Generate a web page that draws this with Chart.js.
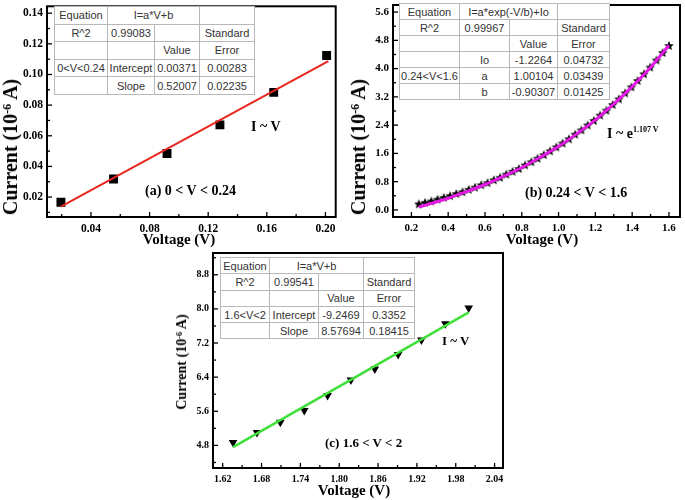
<!DOCTYPE html>
<html>
<head>
<meta charset="utf-8">
<script src="https://cdn.jsdelivr.net/npm/chart.js@4.4.1/dist/chart.umd.min.js"></script>
<style>
  body { margin: 0; background: #fff; }
  #page { position: relative; width: 685px; height: 500px; overflow: hidden; background: #fff; }
  canvas { position: absolute; }
  .fit-table {
    position: absolute; border-collapse: collapse; table-layout: fixed;
    font: 11px "Liberation Sans", Arial, sans-serif; color: #333; background: #fff;
    border: 1.5px solid #8a8a8a;
  }
  .fit-table td { border: 1px solid #b8b8b8; text-align: center; padding: 0; white-space: nowrap; overflow: hidden; }
  .note { position: absolute; font: bold 14px "Liberation Serif", "Times New Roman", serif; white-space: nowrap; line-height: 1; color: #000; }
  .note sup { font-size: 8px; vertical-align: 6px; }
  .axis-title { position: absolute; font-family: "Liberation Serif", "Times New Roman", serif; font-weight: bold; white-space: nowrap; line-height: 1; color: #000; transform: translate(-50%, -50%); }
  .axis-title.vert { transform: translate(-50%, -50%) rotate(-90deg); }
  .axis-title sup { font-size: 0.6em; vertical-align: 0.5em; }
</style>
</head>
<body>
<div id="page">
  <canvas id="chart-a" width="342" height="250" style="left:0;top:0"></canvas>
  <canvas id="chart-b" width="342" height="250" style="left:343px;top:0"></canvas>
  <canvas id="chart-c" width="340" height="255" style="left:170px;top:245px"></canvas>

  <table class="fit-table" style="left:54px;top:6px;width:200px">
    <colgroup><col style="width:53px"><col style="width:47px"><col style="width:45px"><col style="width:55px"></colgroup>
    <tr style="height:17.6px"><td>Equation</td><td colspan="2">I=a*V+b</td><td></td></tr>
    <tr style="height:17.6px"><td>R^2</td><td>0.99083</td><td></td><td>Standard</td></tr>
    <tr style="height:17.6px"><td></td><td></td><td>Value</td><td>Error</td></tr>
    <tr style="height:17.6px"><td>0&lt;V&lt;0.24</td><td>Intercept</td><td>0.00371</td><td>0.00283</td></tr>
    <tr style="height:17.6px"><td></td><td>Slope</td><td>0.52007</td><td>0.02235</td></tr>
  </table>

  <table class="fit-table" style="left:399px;top:3px;width:210px">
    <colgroup><col style="width:60px"><col style="width:50px"><col style="width:48px"><col style="width:52px"></colgroup>
    <tr style="height:16px"><td>Equation</td><td colspan="2">I=a*exp(-V/b)+Io</td><td></td></tr>
    <tr style="height:16px"><td>R^2</td><td>0.99967</td><td></td><td>Standard</td></tr>
    <tr style="height:16px"><td></td><td></td><td>Value</td><td>Error</td></tr>
    <tr style="height:16px"><td></td><td>Io</td><td>-1.2264</td><td>0.04732</td></tr>
    <tr style="height:16px"><td>0.24&lt;V&lt;1.6</td><td>a</td><td>1.00104</td><td>0.03439</td></tr>
    <tr style="height:16px"><td></td><td>b</td><td>-0.90307</td><td>0.01425</td></tr>
  </table>

  <table class="fit-table" style="left:220px;top:257px;width:194px">
    <colgroup><col style="width:49px"><col style="width:49px"><col style="width:45px"><col style="width:51px"></colgroup>
    <tr style="height:16.3px"><td>Equation</td><td colspan="2">I=a*V+b</td><td></td></tr>
    <tr style="height:16.3px"><td>R^2</td><td>0.99541</td><td></td><td>Standard</td></tr>
    <tr style="height:16.3px"><td></td><td></td><td>Value</td><td>Error</td></tr>
    <tr style="height:16.3px"><td>1.6&lt;V&lt;2</td><td>Intercept</td><td>-9.2469</td><td>0.3352</td></tr>
    <tr style="height:16.3px"><td></td><td>Slope</td><td>8.57694</td><td>0.18415</td></tr>
  </table>

  <div class="note" style="left:251px;top:120px">I ~ V</div>
  <div class="note" style="left:145px;top:184px">(a) 0 &lt; V &lt; 0.24</div>
  <div class="note" style="left:607px;top:126px">I ~ e<sup>1.107 V</sup></div>
  <div class="note" style="left:525px;top:186px">(b) 0.24 &lt; V &lt; 1.6</div>
  <div class="note" style="left:442px;top:334px;font-size:13px">I ~ V</div>
  <div class="note" style="left:325px;top:436px;font-size:13px">(c) 1.6 &lt; V &lt; 2</div>

  <div class="axis-title vert" style="left:10px;top:147px;font-size:20px">Current (10<sup>-6</sup> A)</div>
  <div class="axis-title" style="left:179px;top:239px;font-size:15px">Voltage (V)</div>
  <div class="axis-title vert" style="left:358px;top:147px;font-size:20px">Current (10<sup>-6</sup> A)</div>
  <div class="axis-title" style="left:542px;top:239px;font-size:15px">Voltage (V)</div>
  <div class="axis-title vert" style="left:182px;top:362px;font-size:14px">Current (10<sup>-6</sup> A)</div>
  <div class="axis-title" style="left:354px;top:490px;font-size:15px">Voltage (V)</div>
</div>

<script>
// (a) 0 < V < 0.24
const voltsA = [0.0195, 0.0554, 0.0919, 0.128, 0.1647, 0.2008];
const currentA = [0.0166, 0.0318, 0.0484, 0.0671, 0.0883, 0.1124];
const fitVoltsA = [0.0195, 0.202];
const fitCurrentA = [0.0138, 0.1088];
const xTicksA = [0.04, 0.08, 0.12, 0.16, 0.20];
const xLabelsA = ['0.04', '0.08', '0.12', '0.16', '0.20'];
const yTicksA = [0.02, 0.04, 0.06, 0.08, 0.10, 0.12, 0.14];
const yLabelsA = ['0.02', '0.04', '0.06', '0.08', '0.10', '0.12', '0.14'];

// (b) 0.24 < V < 1.6
const voltsB = [0.24, 0.274, 0.308, 0.342, 0.376, 0.41, 0.444, 0.478, 0.512, 0.546,
  0.58, 0.614, 0.648, 0.682, 0.716, 0.75, 0.784, 0.818, 0.852, 0.886,
  0.92, 0.954, 0.988, 1.022, 1.056, 1.09, 1.124, 1.158, 1.192, 1.226,
  1.26, 1.294, 1.328, 1.362, 1.396, 1.43, 1.464, 1.498, 1.532, 1.566, 1.6];
const currentB = [0.16, 0.20, 0.24, 0.29, 0.34, 0.39, 0.45, 0.50, 0.57, 0.63,
  0.70, 0.76, 0.84, 0.91, 1.00, 1.08, 1.16, 1.26, 1.35, 1.45,
  1.55, 1.66, 1.77, 1.88, 2.00, 2.13, 2.25, 2.39, 2.52, 2.67,
  2.81, 2.97, 3.13, 3.30, 3.47, 3.65, 3.84, 4.03, 4.23, 4.44, 4.64];
const fitVoltsB = [0.24, 0.3, 0.4, 0.5, 0.6, 0.7, 0.8, 0.9, 1.0, 1.1, 1.2, 1.3, 1.4, 1.5, 1.6];
const fitCurrentB = [0.08, 0.17, 0.33, 0.52, 0.72, 0.95, 1.20, 1.49, 1.80, 2.16, 2.55, 3.00, 3.49, 4.04, 4.66];
const xTicksB = [0.2, 0.4, 0.6, 0.8, 1.0, 1.2, 1.4, 1.6];
const xLabelsB = ['0.2', '0.4', '0.6', '0.8', '1.0', '1.2', '1.4', '1.6'];
const yTicksB = [0.0, 0.8, 1.6, 2.4, 3.2, 4.0, 4.8, 5.6];
const yLabelsB = ['0.0', '0.8', '1.6', '2.4', '3.2', '4.0', '4.8', '5.6'];

// (c) 1.6 < V < 2
const voltsC = [1.636, 1.673, 1.709, 1.746, 1.782, 1.818, 1.855, 1.891, 1.927, 1.964, 2.0];
const currentC = [4.87, 5.10, 5.34, 5.62, 5.97, 6.33, 6.59, 6.93, 7.27, 7.65, 8.02];
const fitVoltsC = [1.636, 2.0];
const fitCurrentC = [4.76, 7.92];
const xTicksC = [1.62, 1.68, 1.74, 1.80, 1.86, 1.92, 1.98, 2.04];
const xLabelsC = ['1.62', '1.68', '1.74', '1.80', '1.86', '1.92', '1.98', '2.04'];
const yTicksC = [4.8, 5.6, 6.4, 7.2, 8.0, 8.8];
const yLabelsC = ['4.8', '5.6', '6.4', '7.2', '8.0', '8.8'];

const toPoints = (xs, ys) => xs.map((x, i) => ({ x, y: ys[i] }));

function makeStar(r) {
  const c = document.createElement('canvas');
  c.width = c.height = Math.ceil(r * 2) + 2;
  const g = c.getContext('2d');
  const mid = c.width / 2;
  g.beginPath();
  for (let i = 0; i < 10; i++) {
    const rad = i % 2 ? r * 0.45 : r;
    const ang = -Math.PI / 2 + i * Math.PI / 5;
    g.lineTo(mid + rad * Math.cos(ang), mid + rad * Math.sin(ang));
  }
  g.closePath();
  g.fillStyle = '#000';
  g.fill();
  return c;
}

// frame + inward major/minor ticks, placed through the chart's scales
function drawInwardTicks(ctx, scale, area, horizontal) {
  const majors = scale.ticks.map((t) => t.value);
  const step = majors[1] - majors[0];
  const minors = [];
  for (let v = majors[0] - step / 2; v <= scale.max + 1e-9; v += step) {
    if (v >= scale.min) minors.push(v);
  }
  const mark = (v, len) => {
    const p = scale.getPixelForValue(v);
    ctx.beginPath();
    if (horizontal) { ctx.moveTo(p, area.bottom); ctx.lineTo(p, area.bottom - len); }
    else { ctx.moveTo(area.left, p); ctx.lineTo(area.left + len, p); }
    ctx.stroke();
  };
  majors.forEach((v) => mark(v, 5));
  minors.forEach((v) => mark(v, 3));
}

const framePlugin = {
  id: 'frame',
  afterDraw(chart) {
    const { ctx, chartArea: a, scales } = chart;
    ctx.save();
    ctx.strokeStyle = '#000';
    ctx.lineWidth = 1.3;
    drawInwardTicks(ctx, scales.x, a, true);
    drawInwardTicks(ctx, scales.y, a, false);
    ctx.lineWidth = 2;
    ctx.strokeRect(a.left, a.top, a.right - a.left, a.bottom - a.top);
    ctx.restore();
  }
};

function buildPanel(canvasId, p) {
  const tickFont = { family: '"Liberation Serif", "Times New Roman", serif', weight: 'bold', size: p.tickSize };
  return new Chart(document.getElementById(canvasId), {
    type: 'scatter',
    data: {
      datasets: [
        {
          data: toPoints(p.fitX, p.fitY),
          showLine: true,
          borderColor: p.lineColor,
          borderWidth: p.lineWidth,
          pointRadius: 0,
          cubicInterpolationMode: 'monotone',
          order: 0
        },
        {
          data: toPoints(p.x, p.y),
          pointStyle: p.marker,
          pointRotation: p.markerRotation || 0,
          pointRadius: p.markerRadius,
          backgroundColor: '#000',
          borderColor: '#000',
          borderWidth: 0,
          order: 1
        }
      ]
    },
    options: {
      responsive: false,
      animation: false,
      events: [],
      layout: { padding: p.padding },
      plugins: { legend: { display: false }, tooltip: { enabled: false } },
      scales: {
        x: {
          type: 'linear',
          min: p.xMin,
          max: p.xMax,
          afterBuildTicks: (s) => { s.ticks = p.xTicks.map((value) => ({ value })); },
          afterFit: (s) => { s.height = p.xAxisHeight; s.paddingLeft = 0; s.paddingRight = 0; },
          grid: { display: false, drawTicks: false },
          border: { display: false },
          ticks: { padding: 5, color: '#000', font: tickFont, autoSkip: false, maxRotation: 0,
            callback: (v, i) => p.xLabels[i] }
        },
        y: {
          type: 'linear',
          min: p.yMin,
          max: p.yMax,
          afterBuildTicks: (s) => { s.ticks = p.yTicks.map((value) => ({ value })); },
          afterFit: (s) => { s.width = p.yAxisWidth; s.paddingTop = 0; s.paddingBottom = 0; },
          grid: { display: false, drawTicks: false },
          border: { display: false },
          ticks: { padding: 4, color: '#000', font: tickFont, autoSkip: false,
            callback: (v, i) => p.yLabels[i] }
        }
      }
    },
    plugins: [framePlugin]
  });
}

buildPanel('chart-a', {
  x: voltsA, y: currentA, fitX: fitVoltsA, fitY: fitCurrentA,
  xMin: 0.01, xMax: 0.207, yMin: 0.007, yMax: 0.1445,
  xTicks: xTicksA, xLabels: xLabelsA, yTicks: yTicksA, yLabels: yLabelsA,
  marker: 'rect', markerRadius: 6.3, lineColor: '#e8261e', lineWidth: 2,
  padding: { top: 2, right: 6, left: 0, bottom: 0 }, yAxisWidth: 47, xAxisHeight: 33, tickSize: 11.5
});

buildPanel('chart-b', {
  x: voltsB, y: currentB, fitX: fitVoltsB, fitY: fitCurrentB,
  xMin: 0.1, xMax: 1.66, yMin: -0.2, yMax: 5.8,
  xTicks: xTicksB, xLabels: xLabelsB, yTicks: yTicksB, yLabels: yLabelsB,
  marker: makeStar(5), markerRadius: 5, lineColor: '#e61ae6', lineWidth: 3,
  padding: { top: 2, right: 4, left: 0, bottom: 0 }, yAxisWidth: 50, xAxisHeight: 33, tickSize: 11
});

buildPanel('chart-c', {
  x: voltsC, y: currentC, fitX: fitVoltsC, fitY: fitCurrentC,
  xMin: 1.605, xMax: 2.053, yMin: 4.27, yMax: 9.31,
  xTicks: xTicksC, xLabels: xLabelsC, yTicks: yTicksC, yLabels: yLabelsC,
  marker: 'triangle', markerRotation: 180, markerRadius: 5, lineColor: '#3fe03a', lineWidth: 2.5,
  padding: { top: 8, right: 7, left: 0, bottom: 0 }, yAxisWidth: 43, xAxisHeight: 32, tickSize: 10
});
</script>
</body>
</html>
